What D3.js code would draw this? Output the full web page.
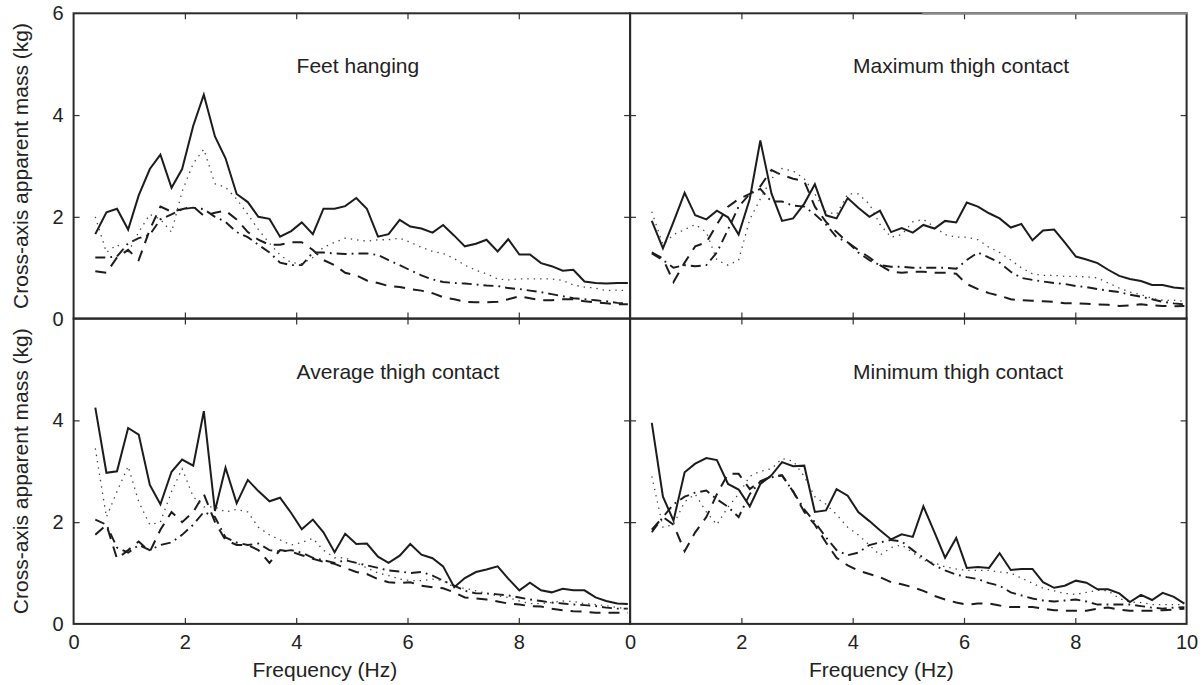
<!DOCTYPE html>
<html><head><meta charset="utf-8">
<script src="https://cdn.jsdelivr.net/npm/d3@7"></script>
<style>
html,body{margin:0;padding:0;background:#fff;}
svg{display:block;font-family:"Liberation Sans",Arial,Helvetica,sans-serif;}
</style></head><body>
<svg id="chart" width="1204" height="685"></svg>
<script>
// ---- data ----
const freq = [0.39,0.59,0.78,0.98,1.17,1.37,1.56,1.76,1.95,2.15,2.34,2.54,2.73,2.93,3.13,3.32,3.52,3.71,3.91,4.10,
              4.30,4.49,4.69,4.88,5.08,5.27,5.47,5.66,5.86,6.05,6.25,6.45,6.64,6.84,7.03,7.23,7.42,7.62,7.81,8.01,
              8.20,8.40,8.59,8.79,8.98,9.18,9.38,9.57,9.77,9.96];
const xTickLabelsLeft = [0,2,4,6,8];
const xTickLabelsRight = [0,2,4,6,8,10];
const yTickLabelsTop = [0,2,4,6];
const yTickLabelsBottom = [0,2,4];
const innerTicksX = [2,4,6,8];
const innerTicksY = [2,4];
const panelTitles = ["Feet hanging","Maximum thigh contact","Average thigh contact","Minimum thigh contact"];
const xLabel = "Frequency (Hz)";
const yLabel = "Cross-axis apparent mass (kg)";

// Feet hanging
const feetSolid = [1.66,2.09,2.16,1.75,2.42,2.94,3.22,2.57,2.94,3.79,4.40,3.58,3.15,2.45,2.29,2.00,1.96,1.61,1.72,1.89,
  1.66,2.16,2.16,2.21,2.37,2.16,1.61,1.66,1.94,1.81,1.77,1.69,1.84,1.63,1.42,1.47,1.55,1.32,1.56,1.26,
  1.26,1.09,1.03,0.94,0.96,0.73,0.70,0.69,0.70,0.70];
const feetDotted = [2.00,1.30,1.45,1.30,1.70,2.05,1.95,1.70,2.50,3.05,3.33,2.65,2.58,2.35,2.05,1.75,1.48,1.25,1.10,1.08,
  1.20,1.40,1.50,1.58,1.55,1.52,1.55,1.55,1.58,1.50,1.40,1.32,1.28,1.18,1.05,0.95,0.88,0.78,0.76,0.78,
  0.78,0.78,0.78,0.75,0.66,0.62,0.60,0.55,0.56,0.55];
const feetDashDot = [1.20,1.20,1.22,1.48,1.58,1.65,1.95,2.05,2.15,2.18,2.15,2.00,1.90,1.70,1.60,1.45,1.30,1.10,1.05,1.05,
  1.30,1.30,1.28,1.27,1.28,1.28,1.25,1.15,1.05,0.95,0.85,0.77,0.72,0.70,0.69,0.67,0.65,0.64,0.60,0.58,
  0.55,0.52,0.48,0.44,0.40,0.38,0.36,0.34,0.31,0.30];
const feetDashed = [0.93,0.90,1.20,1.35,1.15,1.75,2.20,2.10,2.15,2.20,2.02,2.08,2.12,1.95,1.70,1.55,1.45,1.45,1.50,1.50,
  1.35,1.15,1.05,0.90,0.85,0.75,0.70,0.64,0.62,0.58,0.55,0.50,0.42,0.38,0.33,0.32,0.32,0.33,0.38,0.44,
  0.40,0.36,0.36,0.38,0.38,0.34,0.32,0.30,0.28,0.28];

// Maximum thigh contact
const maxSolid = [1.92,1.38,1.90,2.47,2.03,1.95,2.12,1.99,1.65,2.35,3.50,2.46,1.92,1.97,2.26,2.64,2.03,1.97,2.37,2.18,
  2.00,2.12,1.70,1.78,1.69,1.84,1.77,1.92,1.89,2.28,2.20,2.07,1.97,1.79,1.86,1.54,1.73,1.75,1.50,1.22,
  1.16,1.09,0.96,0.84,0.78,0.74,0.66,0.66,0.61,0.59];
const maxDotted = [2.10,1.45,1.65,1.75,1.85,1.70,1.15,1.05,1.15,1.95,2.35,2.75,2.95,2.90,2.75,2.45,2.10,2.05,2.45,2.45,
  2.25,1.85,1.60,1.65,1.90,1.95,1.80,1.65,1.60,1.60,1.55,1.40,1.30,1.15,1.00,0.88,0.85,0.85,0.83,0.83,
  0.82,0.80,0.70,0.60,0.52,0.47,0.40,0.36,0.36,0.34];
const maxDashDot = [1.28,1.15,1.00,1.05,1.03,1.05,1.30,1.75,2.20,2.45,2.55,2.30,2.30,2.22,2.20,2.05,1.85,1.60,1.50,1.30,
  1.15,1.05,1.02,1.02,1.00,1.00,1.00,1.00,0.98,1.15,1.30,1.20,1.10,0.92,0.80,0.76,0.73,0.70,0.68,0.64,
  0.62,0.58,0.55,0.52,0.47,0.43,0.38,0.33,0.30,0.28];
const maxDashed = [1.30,1.18,0.72,1.10,1.42,1.50,1.85,2.20,2.35,2.45,2.60,2.92,2.82,2.75,2.70,2.20,1.90,1.70,1.50,1.35,
  1.20,1.05,0.92,0.90,0.92,0.92,0.90,0.90,0.88,0.68,0.58,0.50,0.45,0.38,0.36,0.35,0.34,0.33,0.30,0.30,
  0.29,0.28,0.27,0.25,0.26,0.28,0.26,0.25,0.24,0.25];

// Average thigh contact
const avgSolid = [4.25,2.97,3.00,3.85,3.72,2.73,2.35,2.99,3.23,3.11,4.18,2.22,3.07,2.37,2.83,2.61,2.41,2.48,2.18,1.86,
  2.05,1.80,1.41,1.77,1.57,1.58,1.32,1.20,1.34,1.57,1.36,1.29,1.13,0.72,0.90,1.02,1.07,1.13,0.89,0.66,
  0.81,0.66,0.62,0.69,0.66,0.66,0.52,0.45,0.40,0.39];
const avgDotted = [3.45,2.10,2.60,3.10,2.40,1.95,2.00,2.60,3.05,2.50,2.30,2.30,2.20,2.25,2.20,1.90,1.75,1.65,1.55,1.60,
  1.68,1.45,1.30,1.30,1.20,1.10,1.00,0.95,0.88,0.85,0.85,0.88,0.85,0.72,0.70,0.65,0.60,0.55,0.52,0.45,
  0.40,0.40,0.42,0.45,0.44,0.40,0.38,0.36,0.32,0.30];
const avgDashDot = [2.05,1.95,1.50,1.40,1.55,1.45,1.55,1.60,1.75,1.95,2.20,2.10,1.70,1.60,1.55,1.58,1.45,1.42,1.45,1.40,
  1.30,1.25,1.20,1.25,1.20,1.15,1.10,1.05,1.03,1.00,1.02,0.95,0.85,0.75,0.65,0.60,0.60,0.58,0.56,0.52,
  0.48,0.45,0.42,0.40,0.38,0.37,0.35,0.32,0.30,0.30];
const avgDashed = [1.75,1.95,1.28,1.45,1.62,1.42,1.85,2.20,2.00,2.20,2.55,2.00,1.65,1.55,1.55,1.45,1.20,1.45,1.42,1.35,
  1.28,1.22,1.18,1.10,1.02,0.98,0.88,0.82,0.80,0.82,0.75,0.72,0.70,0.62,0.52,0.50,0.48,0.44,0.40,0.38,
  0.35,0.34,0.30,0.27,0.25,0.24,0.22,0.22,0.22,0.22];

// Minimum thigh contact
const minSolid = [3.95,2.50,2.03,2.98,3.15,3.26,3.22,2.75,2.64,2.31,2.75,2.92,3.18,3.10,3.11,2.20,2.23,2.65,2.52,2.20,
  2.02,1.84,1.66,1.76,1.71,2.31,1.80,1.30,1.69,1.10,1.12,1.10,1.39,1.06,1.08,1.08,0.82,0.71,0.75,0.85,
  0.81,0.68,0.68,0.60,0.43,0.57,0.47,0.61,0.53,0.40];
const minDotted = [2.90,1.90,1.95,2.40,2.55,2.20,1.95,2.30,2.55,2.90,3.00,3.05,3.25,3.20,2.90,2.50,2.35,2.15,1.90,1.75,
  1.55,1.35,1.50,1.55,1.40,1.25,1.20,1.12,1.08,1.05,1.05,1.05,1.02,1.00,0.90,0.80,0.70,0.65,0.60,0.58,
  0.62,0.66,0.65,0.50,0.43,0.42,0.38,0.38,0.38,0.38];
const minDashDot = [1.80,2.10,2.35,2.50,2.58,2.62,2.45,2.30,2.10,2.55,2.80,2.88,2.92,2.60,2.25,2.00,1.70,1.45,1.35,1.40,
  1.55,1.60,1.65,1.62,1.45,1.30,1.15,1.05,0.97,0.92,0.88,0.80,0.75,0.62,0.56,0.50,0.46,0.44,0.46,0.48,
  0.44,0.38,0.38,0.38,0.38,0.35,0.32,0.30,0.32,0.33];
const minDashed = [1.85,2.10,1.95,1.43,1.80,2.10,2.55,2.95,2.95,2.65,2.80,2.90,2.92,2.60,2.20,1.95,1.60,1.30,1.15,1.05,
  0.98,0.92,0.82,0.78,0.72,0.65,0.55,0.48,0.42,0.38,0.40,0.40,0.36,0.33,0.33,0.33,0.30,0.27,0.26,0.26,
  0.26,0.30,0.32,0.28,0.26,0.26,0.26,0.27,0.28,0.30];

// ---- layout ----
const svg = d3.select("#chart");
const L = 73.6, T = 13.3, W = 556.5, H = 305.3;
const ink = "#1c1c1c";

const styles = {
  solid:   {dash: null,         width: 2.0, color: ink},
  dotted:  {dash: "1.4,5",      width: 1.3, color: "#444"},
  dashdot: {dash: "10,5,1.8,5", width: 1.9, color: ink},
  dashed:  {dash: "11,8",       width: 2.0, color: ink}
};

const panels = [
  {col:0,row:0,title:panelTitles[0],series:{solid:feetSolid,dotted:feetDotted,dashdot:feetDashDot,dashed:feetDashed}},
  {col:1,row:0,title:panelTitles[1],series:{solid:maxSolid,dotted:maxDotted,dashdot:maxDashDot,dashed:maxDashed}},
  {col:0,row:1,title:panelTitles[2],series:{solid:avgSolid,dotted:avgDotted,dashdot:avgDashDot,dashed:avgDashed}},
  {col:1,row:1,title:panelTitles[3],series:{solid:minSolid,dotted:minDotted,dashdot:minDashDot,dashed:minDashed}}
];

panels.forEach(p => {
  const x0 = L + p.col*W, y0 = T + p.row*H;
  const x = d3.scaleLinear().domain([0,10]).range([x0, x0+W]);
  const y = d3.scaleLinear().domain([0,6]).range([y0+H, y0]);
  const g = svg.append("g");

  const line = d3.line().x((d,i)=>x(freq[i])).y(d=>y(d));
  ["dashed","dashdot","dotted","solid"].forEach(k => {
    const s = styles[k];
    g.append("path").datum(p.series[k])
      .attr("d", line)
      .attr("fill","none")
      .attr("stroke", s.color)
      .attr("stroke-width", s.width)
      .attr("stroke-linejoin","miter")
      .attr("stroke-dasharray", s.dash);
  });

  // inner ticks on all four sides
  const tk = (axis, tx, ty) => {
    const a = g.append("g").attr("transform",`translate(${tx},${ty})`).call(axis);
    a.select(".domain").remove();
    a.selectAll("line").attr("stroke","#333").attr("stroke-width",1.2);
    a.selectAll("text").remove();
  };
  tk(d3.axisBottom(x).tickValues(innerTicksX).tickSize(-6), 0, y0+H);
  tk(d3.axisTop(x).tickValues(innerTicksX).tickSize(-6), 0, y0);
  tk(d3.axisLeft(y).tickValues(innerTicksY).tickSize(-6), x0, 0);
  tk(d3.axisRight(y).tickValues(innerTicksY).tickSize(-6), x0+W, 0);

  // frame
  g.append("rect").attr("x",x0).attr("y",y0).attr("width",W).attr("height",H)
    .attr("fill","none").attr("stroke","#2a2a2a").attr("stroke-width",2);
  if (p.row === 0 && p.col === 1) {
    // lighter segment of the top border seen in the reference
    g.append("line").attr("x1", x(5.25)).attr("x2", x0+W+1).attr("y1", y0).attr("y2", y0)
      .attr("stroke","#8a8a8a").attr("stroke-width",2.2);
  }

  // title
  g.append("text").attr("x", x0+223).attr("y", y0+60)
    .attr("font-size",21).attr("fill","#222").text(p.title);

  // tick labels
  const lab = (axis, tx, ty) => {
    const a = g.append("g").attr("transform",`translate(${tx},${ty})`).call(axis);
    a.select(".domain").remove();
    a.selectAll("line").remove();
    a.selectAll("text").attr("font-size",20).attr("fill","#222")
      .attr("font-family",'"Liberation Sans",Arial,Helvetica,sans-serif');
  };
  if (p.row === 1) {
    lab(d3.axisBottom(x).tickValues(p.col===0 ? xTickLabelsLeft : xTickLabelsRight)
        .tickSize(0).tickPadding(11).tickFormat(d3.format("d")), 0, y0+H);
    svg.append("text").attr("x", x0 + W/2 - 27).attr("y", 677)
      .attr("text-anchor","middle").attr("font-size",21).attr("fill","#222").text(xLabel);
  }
  if (p.col === 0) {
    lab(d3.axisLeft(y).tickValues(p.row===0 ? yTickLabelsTop : yTickLabelsBottom)
        .tickSize(0).tickPadding(10).tickFormat(d3.format("d")), x0, 0);
    svg.append("text").attr("transform",`translate(27.5,${y0+H/2}) rotate(-90)`)
      .attr("text-anchor","middle").attr("font-size",21).attr("fill","#222").text(yLabel);
  }
});
</script>
</body></html>
